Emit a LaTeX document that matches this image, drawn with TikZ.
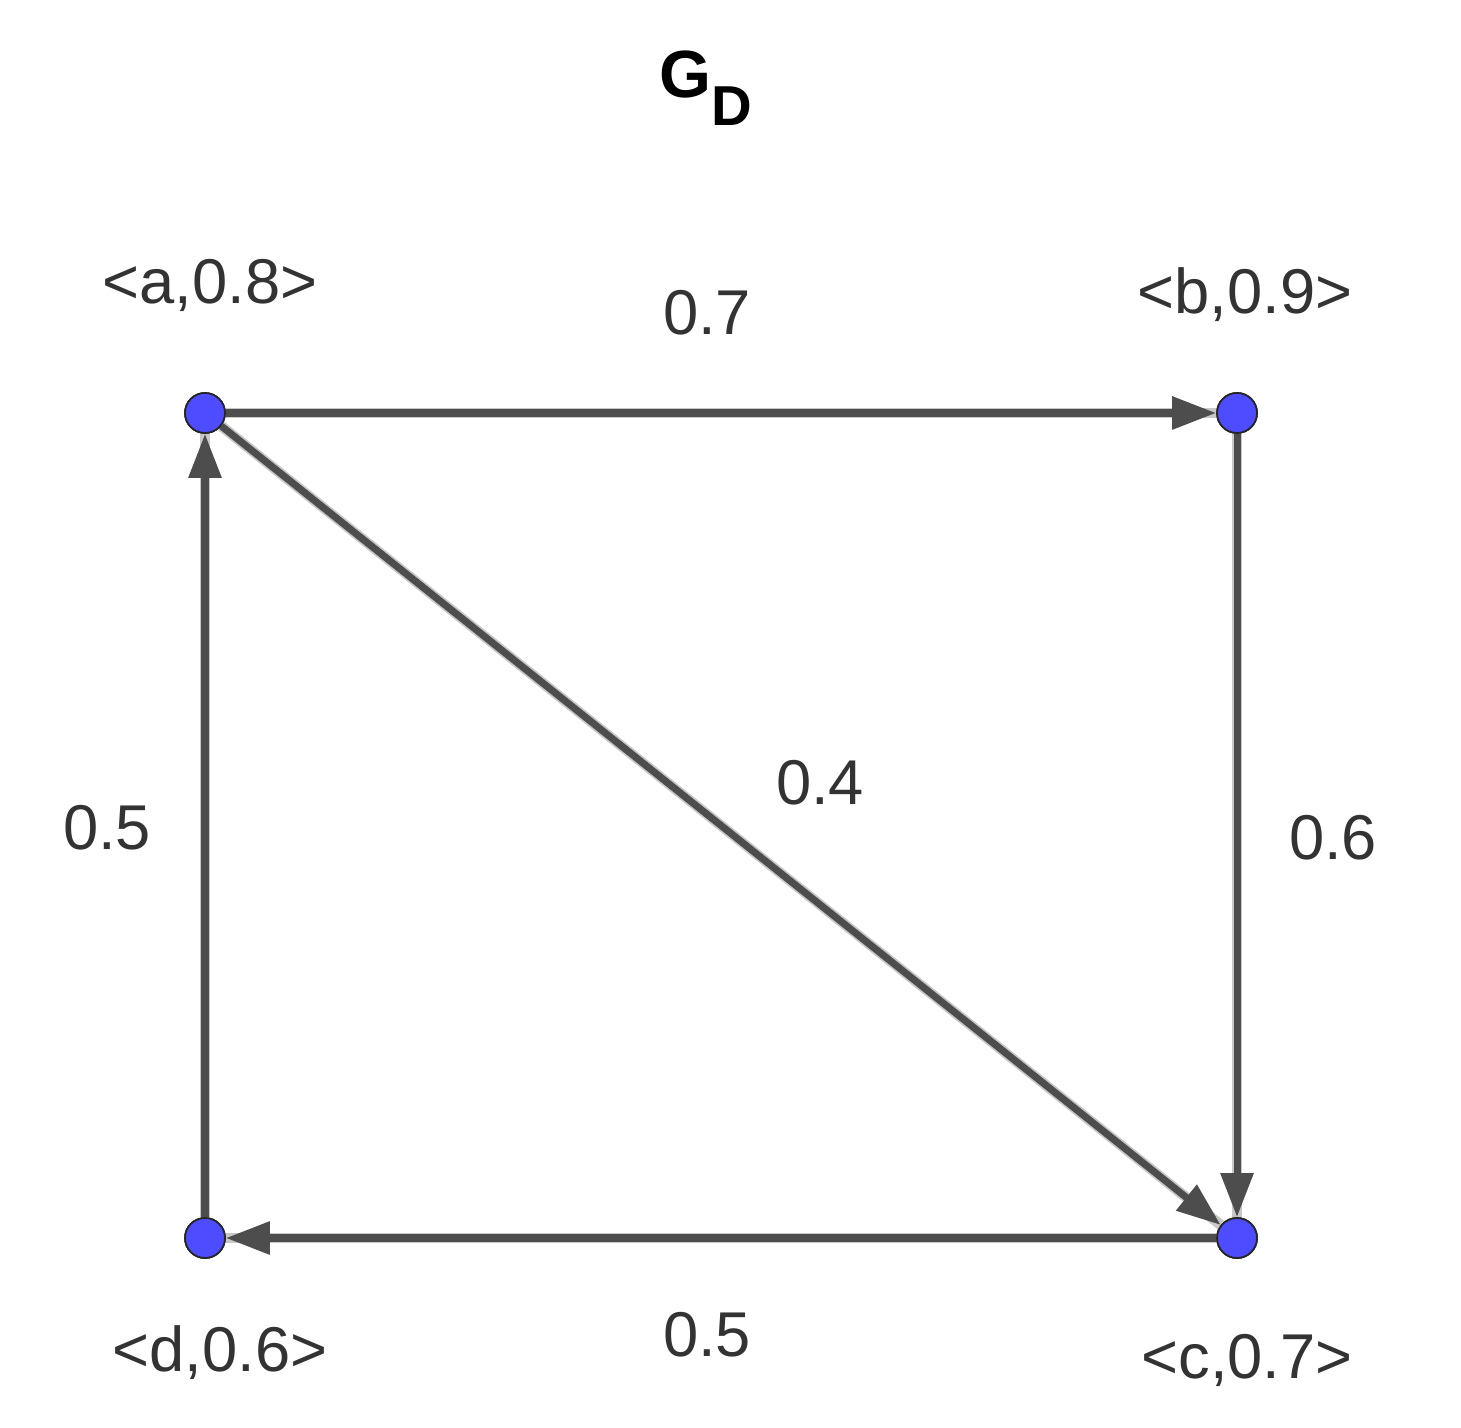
\documentclass[tikz,border=0pt]{standalone}
\usepackage{fontspec}
\setmainfont{Liberation Sans}
\usetikzlibrary{arrows.meta}
\definecolor{edgecol}{HTML}{4D4D4D}
\definecolor{halocol}{HTML}{C8C8C8}
\definecolor{vertcol}{HTML}{4D4DFF}
\definecolor{txtcol}{HTML}{333333}
\begin{document}
\begin{tikzpicture}[x=0.01cm,y=-0.01cm,
  vertex/.style={circle,fill=vertcol,draw=black!85,line width=0.5pt,minimum size=0.4cm,inner sep=0pt},
  edge/.style={draw=edgecol,line width=2pt,
    preaction={draw=halocol,line width=3pt,-},
    -{Triangle[length=12.5pt,width=9pt]}},
  lab/.style={text=txtcol,font=\fontsize{18}{22}\selectfont,inner sep=0pt}]
\useasboundingbox (0,0) rectangle (1461,1428);
\node[font=\bfseries\fontsize{19}{23}\selectfont,inner sep=0pt] (title) at (706,88) {G\raisebox{-8pt}{\fontsize{16}{19}\selectfont D}};
\node[vertex] (a) at (205,413) {};
\node[vertex] (b) at (1237,413) {};
\node[vertex] (c) at (1237,1238) {};
\node[vertex] (d) at (205,1238) {};
\begin{scope}[on background layer/.try]
\end{scope}
\draw[edge] (a) -- (b);
\draw[edge] (b) -- (c);
\draw[edge] (a) -- (c);
\draw[edge] (c) -- (d);
\draw[edge] (d) -- (a);
\node[vertex] at (a) {};
\node[vertex] at (b) {};
\node[vertex] at (c) {};
\node[vertex] at (d) {};
\node[lab] (la) at (210,285) {<a,0.8>};
\node[lab] (lb) at (1245,295) {<b,0.9>};
\node[lab] (lc) at (1247,1360) {<c,0.7>};
\node[lab] (ld) at (220,1353) {<d,0.6>};
\node[lab] (eab) at (707,313) {0.7};
\node[lab] (ebc) at (1333,838) {0.6};
\node[lab] (eac) at (820,783) {0.4};
\node[lab] (ecd) at (707,1335) {0.5};
\node[lab] (eda) at (107,828) {0.5};
\end{tikzpicture}
\end{document}
